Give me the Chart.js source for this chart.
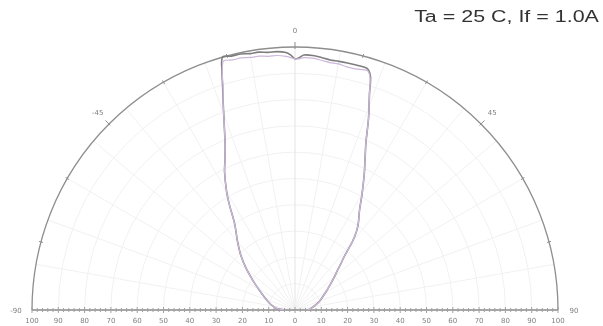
<!DOCTYPE html>
<html lang="en">
<head>
    <meta charset="UTF-8">
    <title>Radiation pattern</title>
    <script src="https://cdn.jsdelivr.net/npm/chart.js"></script>
    <style>
        html, body { margin: 0; padding: 0; background: #fff; }
        #wrap { position: relative; width: 603px; height: 326px; }
        #cond {
            position: absolute; right: 4px; top: 8px;
            font-family: "Liberation Sans", Arial, sans-serif;
            font-size: 16px; color: #333; white-space: nowrap;
            transform: scaleX(1.34); transform-origin: right top;
        }
    </style>
</head>
<body>
    <div id="wrap">
        <canvas id="polarChart" width="603" height="326"></canvas>
        <div id="cond">Ta = 25 C, If = 1.0A</div>
    </div>
    <script>
        // angle in degrees, relative intensity in %
        const angles = [-90, -85, -80, -75, -70, -65, -60, -55, -50, -45, -40, -35, -32, -30, -27, -25, -23, -21, -19, -18, -17, -16,
            -14, -12, -10, -8, -6, -4, -2, -1, 0, 1, 2, 4, 6, 8, 10, 12, 14, 16, 17,
            18, 19, 21, 23, 25, 27, 30, 33, 36, 38, 40, 43, 45, 47, 50, 55, 60, 65, 70, 75, 80, 85, 90];
        const intensityA = [4, 7, 8.5, 10, 11.5, 13.5, 16, 19.5, 24, 29, 34, 40, 47, 52, 59, 63, 68, 75, 84, 89, 95, 100,
            99.5, 99.5, 99, 99, 98.5, 98.5, 98, 97, 95.5, 96, 97, 97, 96.5, 96, 96, 96, 96, 96, 95.5,
            93, 87, 78, 69, 63, 58, 51, 45, 41, 38, 34, 27, 24.5, 22, 19.5, 16, 13.5, 11.5, 10, 8.5, 7, 6, 5];
        const intensityB = [4, 7, 8.5, 10, 11.5, 13.5, 16, 19.5, 24, 29, 34, 40, 47, 52, 59, 63, 68, 75, 84, 88.5, 94.5, 98.5,
            98, 98, 97.5, 97.5, 97, 97, 96.5, 96, 95.5, 95.5, 96, 96, 95.5, 95, 95, 94.5, 94.5, 95, 95,
            92.5, 87, 78, 69, 63, 58, 51, 45, 41, 38, 34, 27, 24.5, 22, 19.5, 16, 13.5, 11.5, 10, 8.5, 7, 6, 5];

        const radialTicks = [-100, -90, -80, -70, -60, -50, -40, -30, -20, -10, 0, 10, 20, 30, 40, 50, 60, 70, 80, 90, 100];
        const angleLabels = [-90, -45, 0, 45, 90];

        function toXY(angs, vals) {
            return angs.map((a, i) => {
                const t = a * Math.PI / 180;
                return { x: vals[i] * Math.sin(t), y: vals[i] * Math.cos(t) };
            });
        }

        // polar grid, outer arc, baseline and labels
        const polarFrame = {
            id: 'polarFrame',
            beforeDatasetsDraw(chart) {
                const ctx = chart.ctx;
                const sx = chart.scales.x, sy = chart.scales.y;
                const cx = sx.getPixelForValue(0), cy = sy.getPixelForValue(0);
                const R = sx.getPixelForValue(100) - cx;
                const unit = R / 100;
                ctx.save();

                // faint circles
                ctx.strokeStyle = '#f1f1f1';
                ctx.lineWidth = 1;
                for (let r = 10; r < 100; r += 10) {
                    ctx.beginPath();
                    ctx.arc(cx, cy, r * unit, Math.PI, 2 * Math.PI);
                    ctx.stroke();
                }
                // faint spokes
                for (let a = -80; a <= 80; a += 10) {
                    const t = a * Math.PI / 180;
                    ctx.strokeStyle = a === 0 ? '#e4e4e4' : '#f1f1f1';
                    ctx.beginPath();
                    ctx.moveTo(cx, cy);
                    ctx.lineTo(cx + R * Math.sin(t), cy - R * Math.cos(t));
                    ctx.stroke();
                }

                // outer arc
                ctx.strokeStyle = '#8e8e8e';
                ctx.lineWidth = 1.3;
                ctx.beginPath();
                ctx.arc(cx, cy, R, Math.PI, 2 * Math.PI);
                ctx.stroke();

                // small ticks on the arc
                ctx.lineWidth = 1;
                for (let a = -75; a <= 75; a += 15) {
                    const t = a * Math.PI / 180;
                    const len = a % 45 === 0 ? 5 : 2;
                    ctx.beginPath();
                    ctx.moveTo(cx + (R - 2) * Math.sin(t), cy - (R - 2) * Math.cos(t));
                    ctx.lineTo(cx + (R + len) * Math.sin(t), cy - (R + len) * Math.cos(t));
                    ctx.stroke();
                }

                // baseline with ticks
                ctx.strokeStyle = '#8a8a8a';
                ctx.lineWidth = 1.3;
                ctx.beginPath();
                ctx.moveTo(sx.getPixelForValue(-100), cy);
                ctx.lineTo(sx.getPixelForValue(100), cy);
                ctx.stroke();
                ctx.lineWidth = 1;
                ctx.strokeStyle = '#a0a0a0';
                for (let v = -100; v <= 100; v += 2) {
                    const px = sx.getPixelForValue(v);
                    const h = v % 10 === 0 ? 3 : 2;
                    ctx.beginPath();
                    ctx.moveTo(px, cy - h);
                    ctx.lineTo(px, cy + h);
                    ctx.stroke();
                }

                // radial value labels under the baseline
                ctx.fillStyle = '#808080';
                ctx.font = '7px "DejaVu Sans", sans-serif';
                ctx.textAlign = 'center';
                ctx.textBaseline = 'middle';
                radialTicks.forEach(v => {
                    ctx.fillText(String(Math.abs(v)), sx.getPixelForValue(v), cy + 11);
                });

                // angle labels
                angleLabels.forEach(a => {
                    const t = a * Math.PI / 180;
                    if (Math.abs(a) === 90) {
                        const px = cx + (a < 0 ? -1 : 1) * (R + 16);
                        ctx.fillText(String(a), px, cy + 1);
                    } else {
                        const rr = R + 16;
                        ctx.fillText(String(a), cx + rr * Math.sin(t), cy - rr * Math.cos(t));
                    }
                });
                ctx.restore();
            }
        };

        const ctx = document.getElementById('polarChart').getContext('2d');
        new Chart(ctx, {
            type: 'scatter',
            data: {
                datasets: [{
                    label: 'B',
                    data: toXY(angles, intensityB),
                    showLine: true,
                    borderColor: '#cdb8dc',
                    borderWidth: 1.2,
                    pointRadius: 0,
                    tension: 0.3,
                    clip: false
                }, {
                    label: 'A',
                    data: toXY(angles, intensityA),
                    showLine: true,
                    borderColor: '#7e7e7e',
                    borderWidth: 1.6,
                    pointRadius: 0,
                    tension: 0.3,
                    clip: false
                }]
            },
            options: {
                responsive: false,
                animation: false,
                layout: { padding: { left: 32, right: 45, top: 47, bottom: 16 } },
                scales: {
                    x: { type: 'linear', min: -100, max: 100, display: false },
                    y: { type: 'linear', min: 0, max: 100, display: false }
                },
                plugins: {
                    legend: { display: false },
                    tooltip: { enabled: false }
                }
            },
            plugins: [polarFrame]
        });
    </script>
</body>
</html>
